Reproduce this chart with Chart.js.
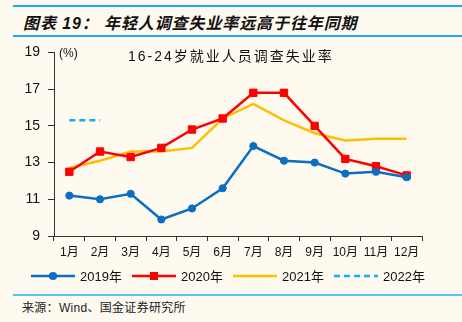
<!DOCTYPE html>
<html>
<head>
<meta charset="utf-8">
<script src="https://cdn.jsdelivr.net/npm/chart.js@4"></script>
<style>
  body { margin: 0; background: #fffaf0; width: 462px; height: 322px; overflow: hidden; position: relative;
         font-family: "Liberation Sans", "Noto Sans CJK SC", sans-serif; }
  #head { position: absolute; left: 13px; right: 0; top: 5px; height: 28px;
          border-top: 2px solid #18aee6; border-bottom: 2px solid #18aee6; }
  #head span { position: absolute; left: 10px; top: 3px; font-size: 16px; font-weight: bold; font-style: italic;
               color: #111; font-family: "Liberation Sans", "Noto Sans CJK SC", sans-serif; letter-spacing: 0.9px; }
  #foot { position: absolute; left: 13px; right: 0; top: 294px; border-top: 2px solid #5bc2e7; }
  #foot span { position: absolute; left: 9px; top: 2px; font-size: 12px; color: #222;
               font-family: "Liberation Sans", "Noto Sans CJK SC", sans-serif; letter-spacing: 0.3px; }
  #wrap { position: absolute; left: 0; top: 36px; width: 462px; height: 256px; }
  .lbl { position: absolute; color: #111; white-space: nowrap; }
</style>
</head>
<body>
<div id="head"><span>图表 19： 年轻人调查失业率远高于往年同期</span></div>
<div id="wrap"><canvas id="chart_area"></canvas></div>
<div class="lbl" style="left:59px; top:46px; font-size:12px; font-family:'Liberation Sans',sans-serif;">(%)</div>
<div class="lbl" style="left:128px; top:45px; font-size:14px; letter-spacing:2px; font-family:'Liberation Sans','Noto Sans CJK SC',sans-serif;">16-24岁就业人员调查失业率</div>
<div id="foot"><span>来源：Wind、国金证券研究所</span></div>
<script>
var months = ['1月', '2月', '3月', '4月', '5月', '6月', '7月', '8月', '9月', '10月', '11月', '12月'];
var y2019 = [11.2, 11.0, 11.3, 9.9, 10.5, 11.6, 13.9, 13.1, 13.0, 12.4, 12.5, 12.2];
var y2020 = [12.5, 13.6, 13.3, 13.8, 14.8, 15.4, 16.8, 16.8, 15.0, 13.2, 12.8, 12.3];
var y2021 = [12.7, 13.1, 13.6, 13.6, 13.8, 15.4, 16.2, 15.3, 14.6, 14.2, 14.3, 14.3];
var y2022 = [15.3, 15.3];
var yTicks = [9, 11, 13, 15, 17, 19];

// legend drawn as line + marker like the original
var legendPlugin = {
    id: 'lineLegend',
    afterDraw: function (chart) {
        var ctx = chart.ctx;
        var y = 240;
        var x0 = 31;
        chart.data.datasets.forEach(function (ds, i) {
            var x = x0 + i * 101;
            ctx.save();
            ctx.strokeStyle = ds.borderColor;
            ctx.lineWidth = ds.borderWidth;
            ctx.setLineDash(ds.borderDash || []);
            ctx.beginPath();
            ctx.moveTo(x, y);
            ctx.lineTo(x + 44, y);
            ctx.stroke();
            ctx.setLineDash([]);
            ctx.fillStyle = ds.borderColor;
            if (ds.pointStyle === 'circle' && ds.pointRadius > 0) {
                ctx.beginPath();
                ctx.arc(x + 22, y, ds.pointRadius + 0.5, 0, Math.PI * 2);
                ctx.fill();
            } else if (ds.pointStyle === 'rect' && ds.pointRadius > 0) {
                ctx.fillRect(x + 22 - 4, y - 4, 8, 8);
            }
            ctx.fillStyle = '#111';
            ctx.font = '13px "Liberation Sans", "Noto Sans CJK SC", sans-serif';
            ctx.textBaseline = 'middle';
            ctx.fillText(ds.label, x + 49, y + 1);
            ctx.restore();
        });
    }
};

new Chart("chart_area",
    {
        type: "line",
        data:
        {
            labels: months,
            datasets:
                [{
                    label: '2019年',
                    data: y2019,
                    borderColor: '#0a6fc2',
                    backgroundColor: '#0a6fc2',
                    borderWidth: 2.5,
                    pointStyle: 'circle',
                    pointRadius: 3.6,
                    pointBorderWidth: 1
                },
                {
                    label: '2020年',
                    data: y2020,
                    borderColor: '#ff0000',
                    backgroundColor: '#ff0000',
                    borderWidth: 2.5,
                    pointStyle: 'rect',
                    pointRadius: 5.2,
                    pointBorderWidth: 1
                },
                {
                    label: '2021年',
                    data: y2021,
                    borderColor: '#ffbf00',
                    backgroundColor: '#ffbf00',
                    borderWidth: 2.5,
                    pointRadius: 0
                },
                {
                    label: '2022年',
                    data: y2022,
                    borderColor: '#12b0f0',
                    backgroundColor: '#12b0f0',
                    borderWidth: 2.5,
                    borderDash: [6, 4],
                    pointRadius: 0
                }]
        },
        options:
        {
            responsive: true,
            maintainAspectRatio: false,
            animation: false,
            layout: { padding: { left: 0, right: 40, top: 16, bottom: 30 } },
            plugins: {
                legend: { display: false },
                tooltip: { enabled: false }
            },
            scales: {
                x: {
                    offset: true,
                    grid: { display: true, offset: true, drawOnChartArea: false, tickLength: 5, tickColor: '#333' },
                    border: { color: '#333', width: 1 },
                    ticks: {
                        color: '#111',
                        padding: 4,
                        maxRotation: 0,
                        autoSkip: false,
                        font: { size: 12, family: '"Liberation Sans", "Noto Sans CJK SC", sans-serif' }
                    },
                    afterFit: function (scale) { scale.height = 26; }
                },
                y: {
                    min: 9,
                    max: 19,
                    afterBuildTicks: function (scale) {
                        scale.ticks = yTicks.map(function (v) { return { value: v }; });
                    },
                    grid: { display: true, drawOnChartArea: false, tickLength: 6, tickColor: '#333' },
                    border: { color: '#333', width: 1 },
                    ticks: {
                        color: '#111',
                        padding: 8,
                        font: { size: 14, family: '"Liberation Sans", sans-serif' }
                    },
                    afterFit: function (scale) { scale.width = 54; }
                }
            }
        },
        plugins: [legendPlugin]
    });
</script>
</body>
</html>
